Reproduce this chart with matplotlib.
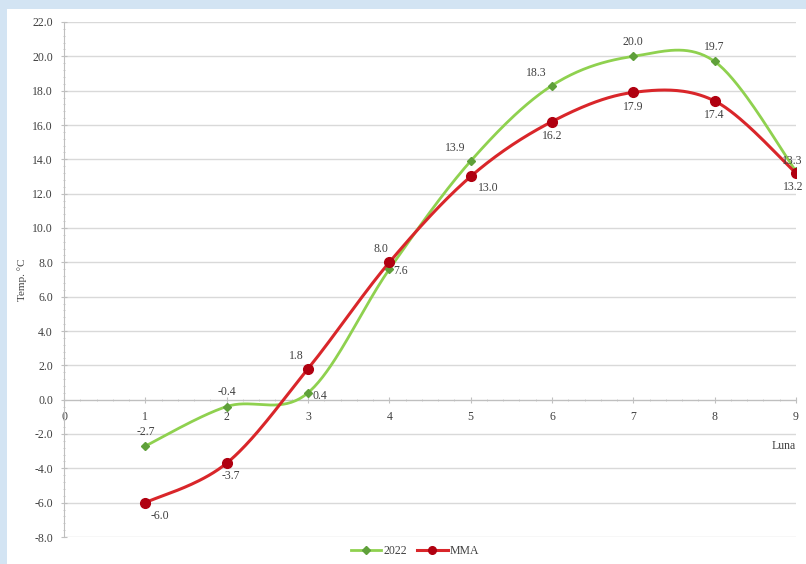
"""
Monthly mean air temperature: 2022 against the multi-year mean (MMA).
"""
import numpy as np
import matplotlib
matplotlib.use("Agg")
import matplotlib.pyplot as plt
from matplotlib.patches import Rectangle
from matplotlib.ticker import MultipleLocator, FormatStrFormatter

months = [1, 2, 3, 4, 5, 6, 7, 8, 9]
temp_2022 = [-2.7, -0.4, 0.4, 7.6, 13.9, 18.3, 20.0, 19.7, 13.3]
temp_mma = [-6.0, -3.7, 1.8, 8.0, 13.0, 16.2, 17.9, 17.4, 13.2]
series_names = ["2022", "MMA"]

# label offsets in points (dx, dy, ha, va) per point
OFF_2022 = [(0, 6, "center", "bottom"), (0, 6, "center", "bottom"),
            (3, -2, "left", "center"), (3, -1, "left", "center"),
            (-4, 5, "right", "bottom"), (-4, 5, "right", "bottom"),
            (0, 6, "center", "bottom"), (0, 6, "center", "bottom"),
            (-10, 3, "left", "bottom")]
OFF_MMA = [(4, -5, "left", "top"), (3, -5, "center", "top"),
           (-3, 5, "right", "bottom"), (-6, 5, "center", "bottom"),
           (5, -4, "left", "top"), (0, -6, "center", "top"),
           (0, -6, "center", "top"), (0, -6, "center", "top"),
           (-2, -6, "center", "top")]


def smooth(xs, ys, n=40):
    """Catmull-Rom style smoothing through every point (spreadsheet 'smoothed line')."""
    x = np.asarray(xs, float)
    y = np.asarray(ys, float)
    px = np.concatenate([[x[0]], x, [x[-1]]])
    py = np.concatenate([[y[0]], y, [y[-1]]])
    out_x, out_y = [], []
    t = np.linspace(0, 1, n)
    for i in range(1, len(px) - 2):
        p0 = np.array([px[i], py[i]])
        p3 = np.array([px[i + 1], py[i + 1]])
        c1 = p0 + (np.array([px[i + 1], py[i + 1]]) - np.array([px[i - 1], py[i - 1]])) / 6
        c2 = p3 - (np.array([px[i + 2], py[i + 2]]) - np.array([px[i], py[i]])) / 6
        b = ((1 - t) ** 3)[:, None] * p0 + (3 * (1 - t) ** 2 * t)[:, None] * c1 \
            + (3 * (1 - t) * t ** 2)[:, None] * c2 + (t ** 3)[:, None] * p3
        out_x.extend(b[:, 0])
        out_y.extend(b[:, 1])
    return np.array(out_x), np.array(out_y)


plt.rcParams["font.family"] = ["Liberation Serif", "DejaVu Serif"]

fig = plt.figure(figsize=(8.06, 5.64), dpi=100, facecolor="#d3e4f3")
fig.patches.append(Rectangle((7 / 806, 0), 1, 1 - 9 / 564, transform=fig.transFigure,
                             facecolor="white", edgecolor="none", zorder=-10))

ax = fig.add_axes([64 / 806, 1 - 537 / 564, 732 / 806, 515 / 564])
ax.set_zorder(1)
ax.patch.set_alpha(0)

ax.set_xlim(0, 9)
ax.set_ylim(-8, 22)
ax.yaxis.set_major_locator(MultipleLocator(2))
ax.yaxis.set_minor_locator(MultipleLocator(0.4))
ax.xaxis.set_major_locator(MultipleLocator(1))
ax.xaxis.set_minor_locator(MultipleLocator(0.2))
ax.yaxis.set_major_formatter(FormatStrFormatter("%.1f"))
ax.grid(True, axis="y", color="#d9d9d9", lw=1.0, zorder=0)

for side in ("top", "right"):
    ax.spines[side].set_visible(False)
ax.spines["bottom"].set_position(("data", 0))
ax.spines["left"].set_color("#bfbfbf")
ax.spines["bottom"].set_color("#bfbfbf")
ax.tick_params(axis="both", which="both", colors="#bfbfbf", labelcolor="#404040",
               labelsize=8.5)
ax.tick_params(axis="y", which="major", length=4, direction="inout", pad=6)
ax.tick_params(axis="y", which="minor", length=2, direction="inout")
ax.tick_params(axis="x", which="major", length=4, direction="inout", pad=6)
ax.tick_params(axis="x", which="minor", length=2, direction="inout")

gx, gy = smooth(months, temp_2022)
rx, ry = smooth(months, temp_mma)
ax.plot(gx, gy, color="#8fd14f", lw=2.0, zorder=3)
ax.plot(rx, ry, color="#d9262a", lw=2.2, zorder=4)
ax.plot(months, temp_2022, ls="none", marker="D", ms=4.5, color="#5fa03a",
        mec="#5fa03a", zorder=5)
ax.plot(months, temp_mma, ls="none", marker="o", ms=7, color="#b00010",
        mec="#b00010", zorder=6)

for x, y, (dx, dy, ha, va) in zip(months, temp_2022, OFF_2022):
    ax.annotate(f"{y:.1f}", (x, y), xytext=(dx, dy), textcoords="offset points",
                ha=ha, va=va, fontsize=8.5, color="#404040", zorder=7,
                annotation_clip=False)
for x, y, (dx, dy, ha, va) in zip(months, temp_mma, OFF_MMA):
    ax.annotate(f"{y:.1f}", (x, y), xytext=(dx, dy), textcoords="offset points",
                ha=ha, va=va, fontsize=8.5, color="#404040", zorder=7,
                annotation_clip=False)

ax.set_ylabel("Temp. °C", fontsize=8, color="#404040", labelpad=4)
ax.text(8.85, -2.7, "Luna", fontsize=8.5, color="#404040", ha="center", va="center")

h1, = ax.plot([], [], color="#8fd14f", lw=2.0, marker="D", ms=4.5,
              mfc="#5fa03a", mec="#5fa03a")
h2, = ax.plot([], [], color="#d9262a", lw=2.2, marker="o", ms=5.5,
              mfc="#b00010", mec="#b00010")
fig.legend([h1, h2], series_names, loc="center", bbox_to_anchor=(0.515, 0.023),
           ncol=2, frameon=False, fontsize=8.5, handlelength=2.6,
           columnspacing=0.8, handletextpad=0.2, labelcolor="#404040")

fig.savefig("out.png", dpi=100, facecolor=fig.get_facecolor())
